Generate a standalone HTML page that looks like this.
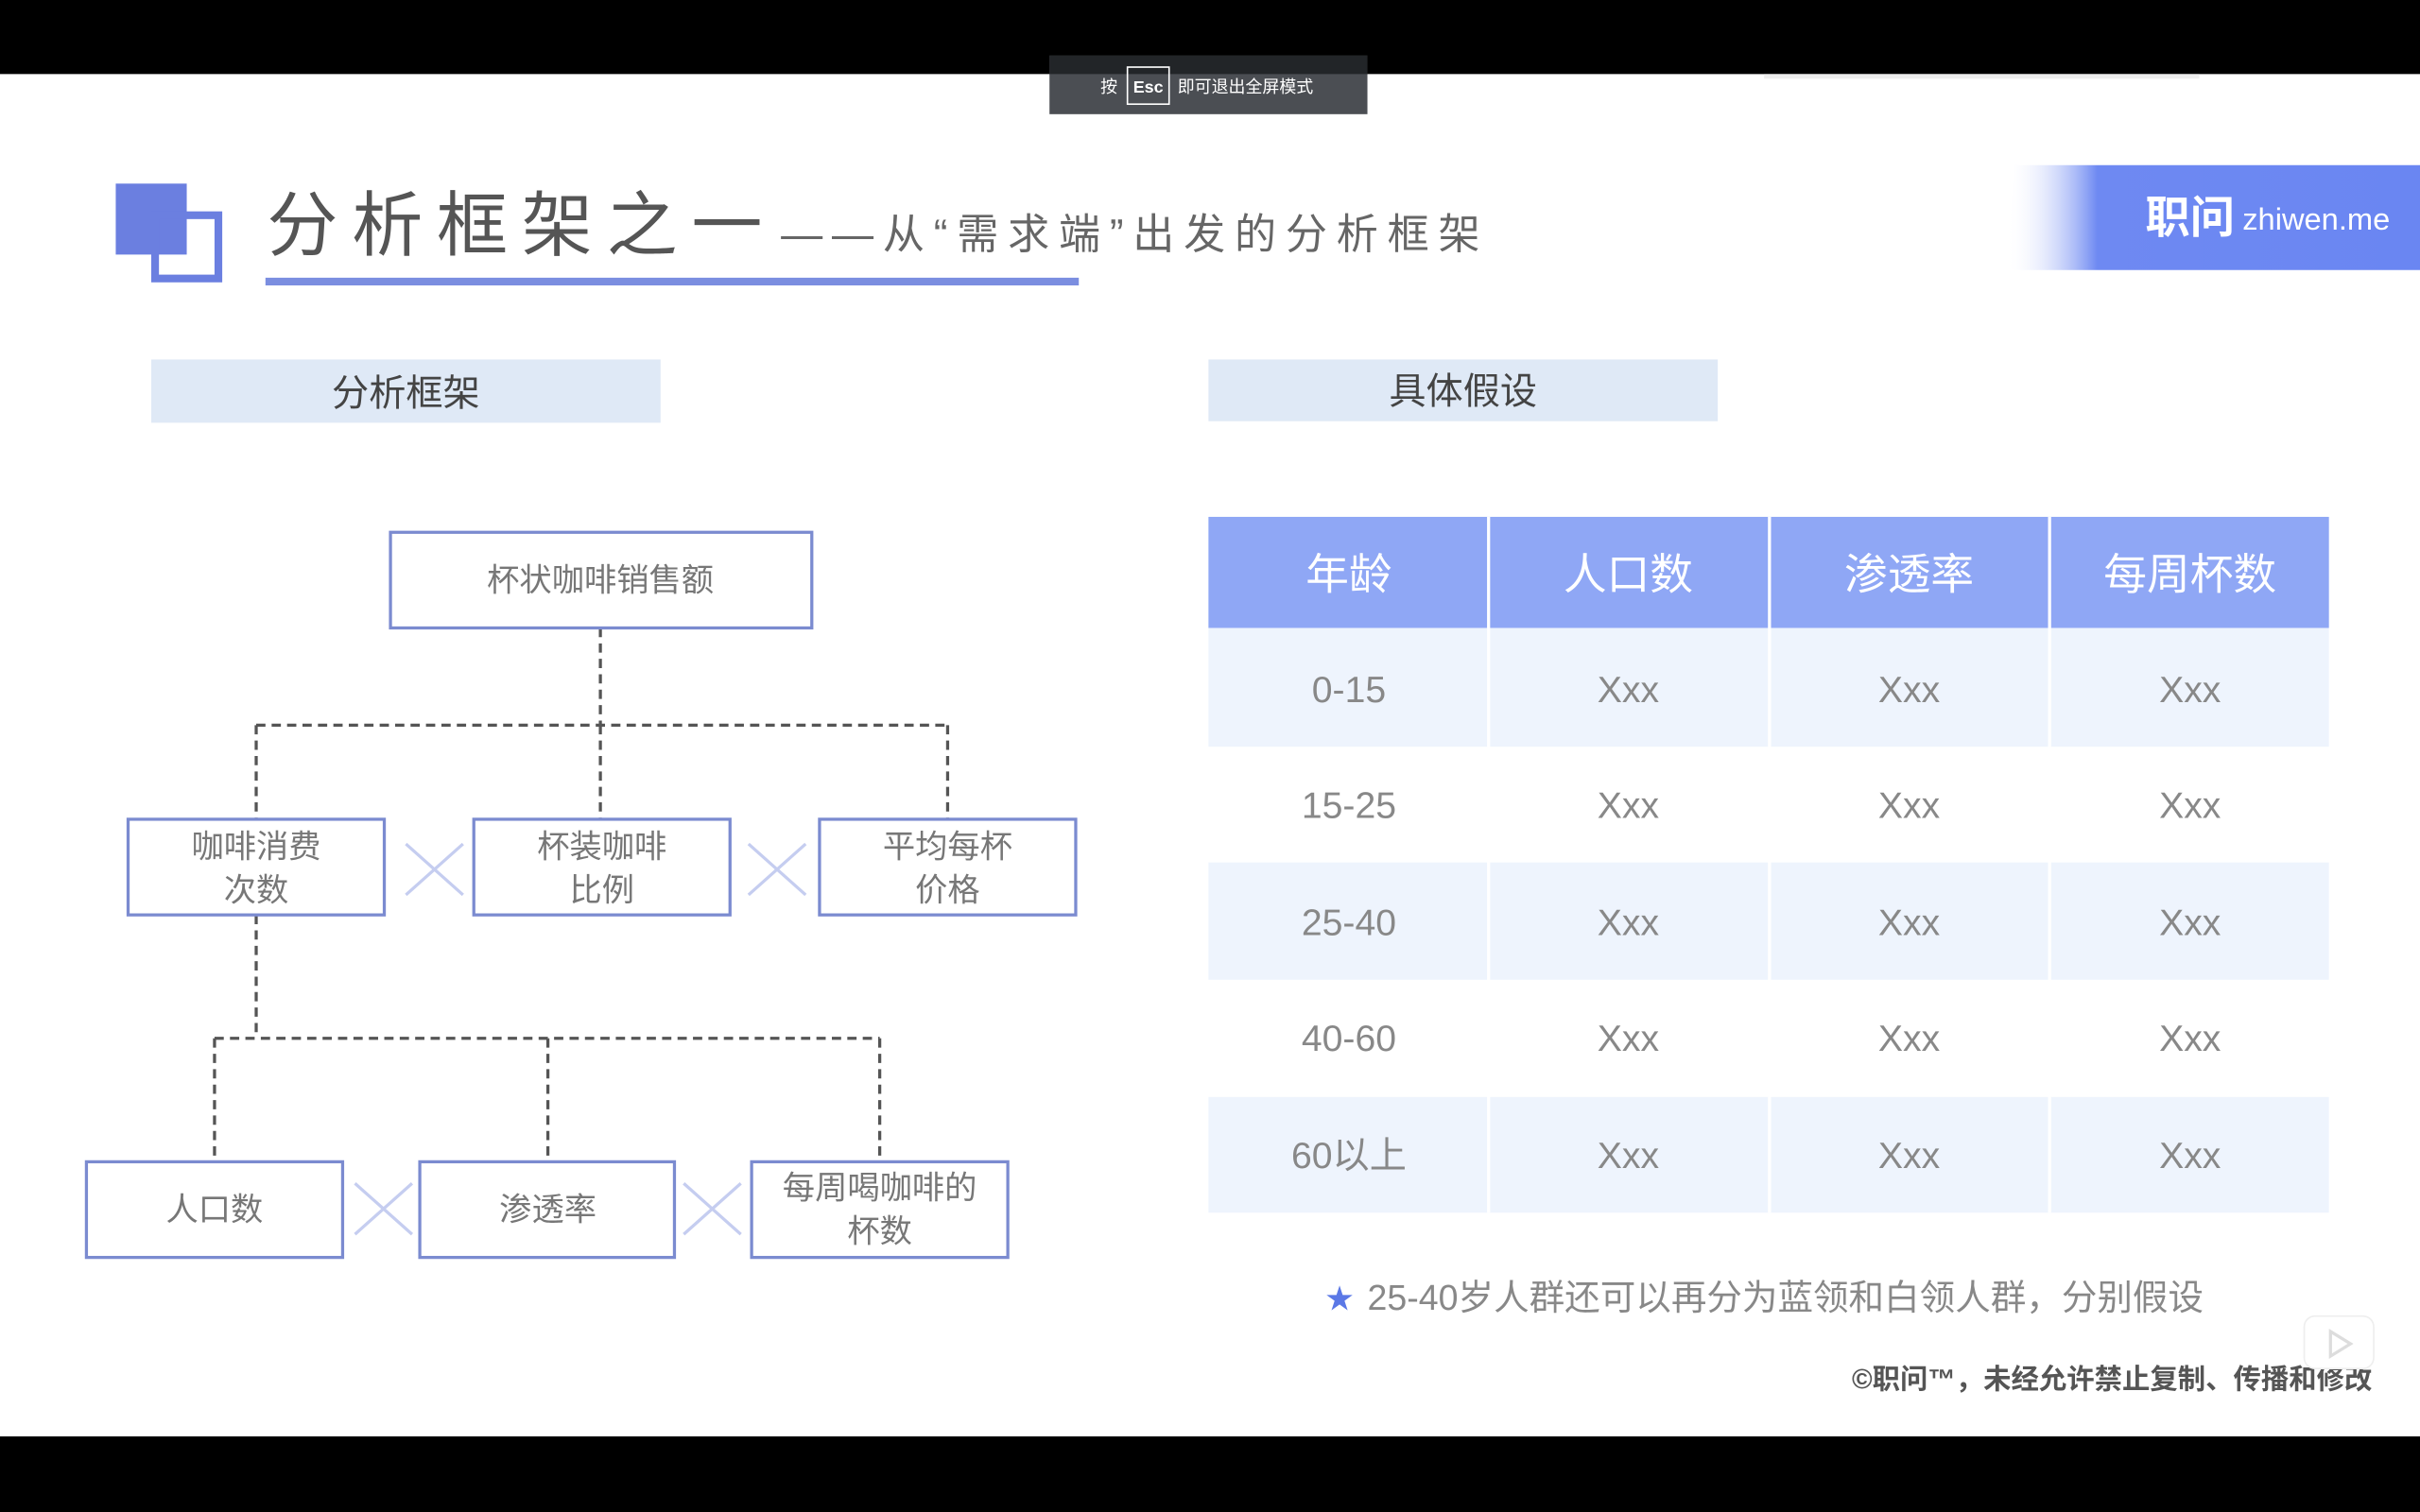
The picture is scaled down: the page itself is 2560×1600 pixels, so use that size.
<!DOCTYPE html>
<html><head><meta charset="utf-8"><style>
html,body{margin:0;padding:0;background:#000;}
svg{display:block;}
text{font-family:"Liberation Sans","Noto Sans CJK SC",sans-serif;}
</style></head><body>
<svg width="2560" height="1600" viewBox="0 0 1568 980" preserveAspectRatio="none" xmlns="http://www.w3.org/2000/svg">
<defs>
<linearGradient id="lg" x1="0" x2="1" y1="0" y2="0">
<stop offset="0" stop-color="#ffffff" stop-opacity="0"/>
<stop offset="0.22" stop-color="#6e89f2"/>
<stop offset="1" stop-color="#6a86f2"/>
</linearGradient>
</defs>
<rect x="0" y="0" width="1568" height="980" fill="#000"/>
<rect x="0" y="48" width="1568" height="883" fill="#fff"/>
<rect x="1143" y="48" width="282" height="3" fill="#eee"/>
<!-- toast -->
<rect x="680" y="36" width="206" height="38" fill="#4b4e53"/>
<rect x="680" y="36" width="206" height="12" fill="#222528"/>
<text x="713" y="60" font-size="11" fill="#fff">按</text>
<rect x="730.5" y="43.5" width="27" height="24" fill="none" stroke="#fff" stroke-width="1"/>
<text x="744" y="60" font-size="11" fill="#fff" text-anchor="middle" font-weight="bold">Esc</text>
<text x="763" y="60" font-size="11" fill="#fff">即可退出全屏模式</text>
<!-- title -->
<rect x="75" y="119" width="46" height="46" fill="#6b7fe0"/>
<rect x="100.5" y="139.5" width="41" height="41" fill="none" stroke="#6b7fe0" stroke-width="5"/>
<text x="173" y="162" font-size="46" fill="#555" letter-spacing="9">分析框架之一</text>
<text x="506" y="161" font-size="27" fill="#666" letter-spacing="6">——从“需求端”出发的分析框架</text>
<rect x="172" y="180" width="527" height="5" fill="#7b8ee0"/>
<!-- logo -->
<polygon points="1305,107 1568,107 1568,175 1300,175" fill="url(#lg)"/>
<text x="1390" y="151" font-size="29" fill="#fff" font-weight="bold">职问</text>
<text x="1453" y="149" font-size="20" fill="#fff">zhiwen.me</text>
<!-- section headers -->
<rect x="98" y="233" width="330" height="41" fill="#dfe9f6"/>
<text x="263" y="263" font-size="24" fill="#444" text-anchor="middle">分析框架</text>
<rect x="783" y="233" width="330" height="40" fill="#dfe9f6"/>
<text x="948" y="262" font-size="24" fill="#444" text-anchor="middle">具体假设</text>
<!-- tree connectors -->
<g stroke="#555" stroke-width="2" stroke-dasharray="6,4" fill="none">
<path d="M389 407 V470 M166 470 H614 M166 470 V531 M389 470 V531 M614 470 V531"/>
<path d="M166 593 V673 M139 673 H570 M139 673 V753 M355 673 V753 M570 673 V753"/>
</g>
<g stroke="#7b8bd0" stroke-width="2" fill="#fff">
<rect x="253" y="345" width="273" height="62"/>
<rect x="83" y="531" width="166" height="62"/>
<rect x="307" y="531" width="166" height="62"/>
<rect x="531" y="531" width="166" height="62"/>
<rect x="56" y="753" width="166" height="62"/>
<rect x="272" y="753" width="165" height="62"/>
<rect x="487" y="753" width="166" height="62"/>
</g>
<g stroke="#c5cdf0" stroke-width="2">
<path d="M263 547 L300 580 M300 547 L263 580"/>
<path d="M485 547 L522 580 M522 547 L485 580"/>
<path d="M230 767 L267 800 M267 767 L230 800"/>
<path d="M443 767 L480 800 M480 767 L443 800"/>
</g>
<g font-size="21" fill="#777" text-anchor="middle">
<text x="389" y="383">杯状咖啡销售额</text>
<text x="166" y="556">咖啡消费</text><text x="166" y="584">次数</text>
<text x="390" y="556">杯装咖啡</text><text x="390" y="584">比例</text>
<text x="614" y="556">平均每杯</text><text x="614" y="584">价格</text>
<text x="139" y="791">人口数</text>
<text x="355" y="791">渗透率</text>
<text x="570" y="777">每周喝咖啡的</text><text x="570" y="805">杯数</text>
</g>
<!-- table -->
<rect x="783" y="335" width="726" height="72" fill="#8fa7f5"/>
<rect x="783" y="407" width="726" height="77" fill="#eef4fd"/>
<rect x="783" y="559" width="726" height="76" fill="#eef4fd"/>
<rect x="783" y="711" width="726" height="75" fill="#eef4fd"/>
<g stroke="#fff" stroke-width="2"><path d="M964.5 335 V786 M1146.5 335 V786 M1328 335 V786"/></g>
<g font-size="28" fill="#fff" text-anchor="middle">
<text x="874" y="382">年龄</text><text x="1055" y="382">人口数</text><text x="1237" y="382">渗透率</text><text x="1419" y="382">每周杯数</text>
</g>
<g font-size="24" fill="#888" text-anchor="middle">
<text x="874" y="455">0-15</text><text x="1055" y="455">Xxx</text><text x="1237" y="455">Xxx</text><text x="1419" y="455">Xxx</text>
<text x="874" y="530">15-25</text><text x="1055" y="530">Xxx</text><text x="1237" y="530">Xxx</text><text x="1419" y="530">Xxx</text>
<text x="874" y="606">25-40</text><text x="1055" y="606">Xxx</text><text x="1237" y="606">Xxx</text><text x="1419" y="606">Xxx</text>
<text x="874" y="681">40-60</text><text x="1055" y="681">Xxx</text><text x="1237" y="681">Xxx</text><text x="1419" y="681">Xxx</text>
<text x="874" y="757">60以上</text><text x="1055" y="757">Xxx</text><text x="1237" y="757">Xxx</text><text x="1419" y="757">Xxx</text>
</g>
<text x="859" y="848" font-size="18" fill="#5b78e6">★</text>
<text x="886" y="849" font-size="23" fill="#888">25-40岁人群还可以再分为蓝领和白领人群，分别假设</text>
<text x="1537" y="900" font-size="18" fill="#555" font-weight="bold" text-anchor="end">©职问™，未经允许禁止复制、传播和修改</text>
<!-- bili icon -->
<rect x="1493" y="853" width="45" height="34" rx="7" fill="#fff" stroke="#eee" stroke-width="1"/>
<polygon points="1510,863 1510,879 1523,871" fill="none" stroke="#ddd" stroke-width="2"/>
</svg>
</body></html>
